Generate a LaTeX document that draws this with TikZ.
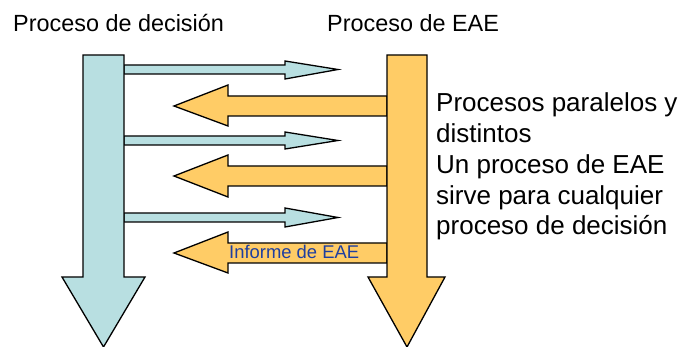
\documentclass[tikz,border=0pt]{standalone}
\usepackage{fontspec}
\setmainfont{Liberation Sans}
\usetikzlibrary{positioning}
\definecolor{decblue}{RGB}{184,223,225}
\definecolor{eaeorange}{RGB}{255,204,102}
\definecolor{infoblue}{RGB}{31,63,160}

\begin{document}
\begin{tikzpicture}[x=1pt,y=-1pt,line join=miter,
                    blockblue/.style={fill=decblue,draw=black,line width=1.3pt},
                    blockorange/.style={fill=eaeorange,draw=black,line width=1.3pt}]
      \tikzstyle{title}=[inner sep=0pt,anchor=base west,font=\fontsize{23.4}{26}\selectfont]
      \useasboundingbox (0,0) rectangle (696,347);

      \node[title] (dec) at (13,32)  {Proceso de decisión};
      \node[title] (eae) at (327,32) {Proceso de EAE};

      % flechas del proceso de decision hacia EAE
      \draw[blockblue] (124,65) -- (285,65) -- (285,61) -- (338,69.5) -- (285,79) -- (285,74) -- (124,74) -- cycle;
      \draw[blockblue] (124,136) -- (285,136) -- (285,132) -- (338,140.5) -- (285,149) -- (285,145) -- (124,145) -- cycle;
      \draw[blockblue] (124,213) -- (285,213) -- (285,208) -- (338,217.5) -- (285,227) -- (285,222) -- (124,222) -- cycle;

      % flechas del proceso de EAE hacia la decision
      \draw[blockorange] (387,96) -- (228,96) -- (228,85) -- (174,106) -- (228,126) -- (228,116) -- (387,116) -- cycle;
      \draw[blockorange] (387,166) -- (228,166) -- (228,155) -- (174,176) -- (228,197) -- (228,186) -- (387,186) -- cycle;
      \draw[blockorange] (387,243) -- (228,243) -- (228,232) -- (174,253) -- (228,273) -- (228,263) -- (387,263) -- cycle;

      % los dos procesos
      \draw[blockblue]   (83,55) -- (124,55) -- (124,277) -- (145,277) -- (103.5,347) -- (62,277) -- (83,277) -- cycle;
      \draw[blockorange] (387,55) -- (427,55) -- (427,277) -- (445,277) -- (407,347) -- (368,277) -- (387,277) -- cycle;

      \node[inner sep=0pt,anchor=base west,text=infoblue,font=\fontsize{18.4}{20}\selectfont]
            (informe) at (229,259) {Informe de EAE};

      \node[inner sep=0pt,anchor=base west,align=left,font=\fontsize{26}{30.75}\selectfont]
            (notas) at (436,235) {Procesos paralelos y\\distintos\\Un proceso de EAE\\sirve para cualquier\\proceso de decisión};
\end{tikzpicture}
\end{document}
